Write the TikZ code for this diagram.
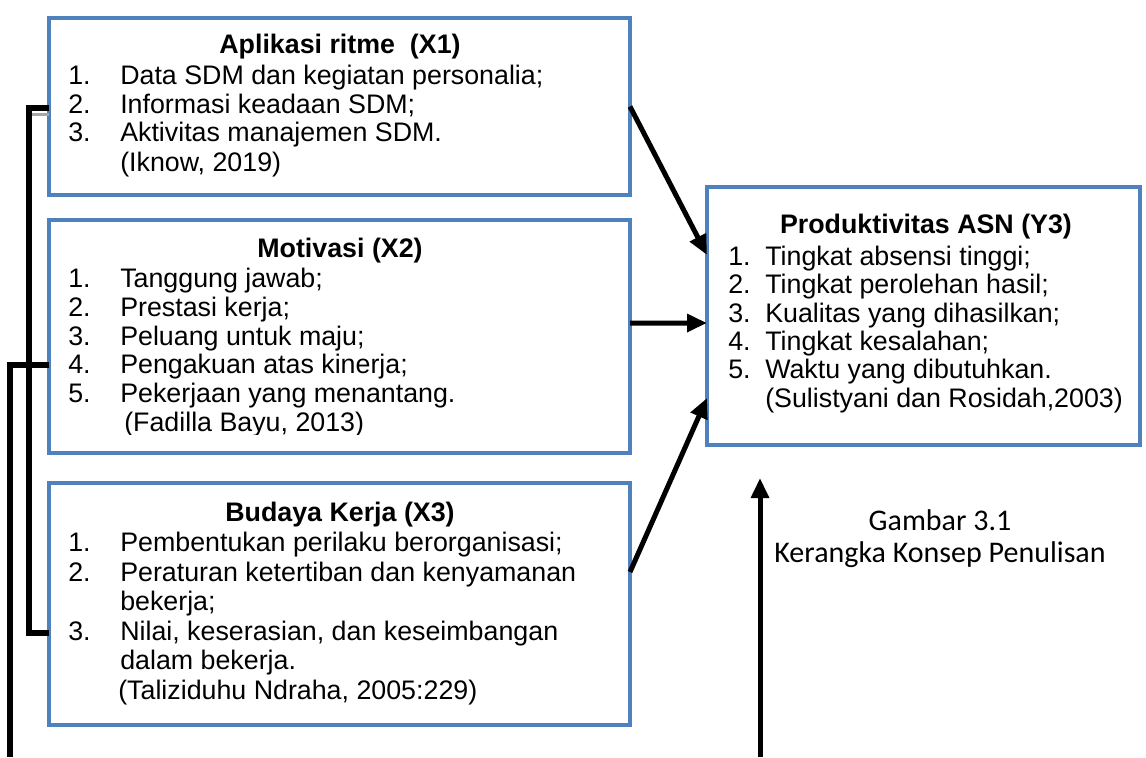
\documentclass[tikz,border=0pt]{standalone}
\usepackage{fontspec}
\setmainfont{Liberation Sans}
\newfontfamily\capfont{Carlito}
\usetikzlibrary{arrows.meta}
\definecolor{boxblue}{HTML}{4F81BD}
\begin{document}
\begin{tikzpicture}[x=0.75pt,y=-0.75pt,
  box/.style 2 args={draw=boxblue,line width=3pt,fill=white,minimum width={#1*0.75pt},minimum height={#2*0.75pt},inner sep=0pt,outer sep=0pt},
  txt/.style={anchor=base west,inner sep=0pt,font=\fontsize{20.1}{22}\selectfont},
  ttl/.style={anchor=base,inner sep=0pt,font=\fontsize{20.1}{22}\selectfont\bfseries},
  capt/.style={anchor=base,inner sep=0pt,font=\capfont\fontsize{22.5}{24}\selectfont},
  conn/.style={line width=4pt},
  shadow/.style={draw=black!35,line width=2.5pt},
  arr/.style={line width=3.75pt,-{Triangle[length=15pt,width=13pt]}}]
\useasboundingbox[fill=white] (0,0) rectangle (1146,757);

% boxes
\node[box={581}{177}] (x1) at (339.5,106.5) {};
\node[box={581}{233}] (x2) at (339.5,336.5) {};
\node[box={581}{242}] (x3) at (339.5,604) {};
\node[box={433}{258}] (y3) at (923.5,316) {};

% X1 text
\node[ttl] (x1t) at (340,53) {Aplikasi ritme\ \ (X1)};
\node[txt] (x1n1) at (68,84) {1.};  \node[txt] (x1a) at (120,84) {Data SDM dan kegiatan personalia;};
\node[txt] (x1n2) at (68,113) {2.}; \node[txt] (x1b) at (120,113) {Informasi keadaan SDM;};
\node[txt] (x1n3) at (68,141) {3.}; \node[txt] (x1c) at (120,141) {Aktivitas manajemen SDM.};
\node[txt] (x1r) at (120,171) {(Iknow, 2019)};

% X2 text
\node[ttl] (x2t) at (340,257) {Motivasi (X2)};
\node[txt] (x2n1) at (68,287) {1.}; \node[txt] (x2a) at (120,287) {Tanggung jawab;};
\node[txt] (x2n2) at (68,316) {2.}; \node[txt] (x2b) at (120,316) {Prestasi kerja;};
\node[txt] (x2n3) at (68,345) {3.}; \node[txt] (x2c) at (120,345) {Peluang untuk maju;};
\node[txt] (x2n4) at (68,373) {4.}; \node[txt] (x2d) at (120,373) {Pengakuan atas kinerja;};
\node[txt] (x2n5) at (68,402) {5.}; \node[txt] (x2e) at (120,402) {Pekerjaan yang menantang.};
\begin{scope}
\clip (100,410) rectangle (600,434);
\node[txt] (x2r) at (124,431) {(Fadilla Bayu, 2013)};
\end{scope}

% X3 text
\node[ttl] (x3t) at (340,521) {Budaya Kerja (X3)};
\node[txt] (x3n1) at (68,551) {1.}; \node[txt] (x3a) at (120,551) {Pembentukan perilaku berorganisasi;};
\node[txt] (x3n2) at (68,581) {2.}; \node[txt] (x3b) at (120,581) {Peraturan ketertiban dan kenyamanan};
\node[txt] (x3b2) at (120,610) {bekerja;};
\node[txt] (x3n3) at (68,640) {3.}; \node[txt] (x3c) at (120,640) {Nilai, keserasian, dan keseimbangan};
\node[txt] (x3c2) at (120,669) {dalam bekerja.};
\node[txt] (x3r) at (118,699) {(Taliziduhu Ndraha, 2005:229)};

% Y3 text
\node[ttl] (y3t) at (926,233) {Produktivitas ASN (Y3)};
\node[txt] (y3n1) at (728,265) {1.}; \node[txt] (y3a) at (765,265) {Tingkat absensi tinggi;};
\node[txt] (y3n2) at (728,293) {2.}; \node[txt] (y3b) at (765,293) {Tingkat perolehan hasil;};
\node[txt] (y3n3) at (728,322) {3.}; \node[txt] (y3c) at (765,322) {Kualitas yang dihasilkan;};
\node[txt] (y3n4) at (728,350) {4.}; \node[txt] (y3d) at (765,350) {Tingkat kesalahan;};
\node[txt] (y3n5) at (728,378) {5.}; \node[txt] (y3e) at (765,378) {Waktu yang dibutuhkan.};
\node[txt] (y3r) at (765,407) {(Sulistyani dan Rosidah,2003)};

% caption
\node[capt] (cap1) at (940,530) {Gambar 3.1};
\node[capt] (cap2) at (940,562) {Kerangka Konsep Penulisan};

% connectors
\draw[arr] (x1.east) -- ([yshift=45.75pt]y3.west);
\draw[arr] ([yshift=10.1pt]x2.east) -- ([yshift=-5.25pt]y3.west);
\draw[arr] ([yshift=24pt]x3.east) -- ([yshift=-61.5pt]y3.west);

\coordinate (sh1) at (32,114.5);
\draw[shadow] (sh1) -- ([yshift=-6pt]x1.west);
\draw[conn] ([yshift=-1.1pt]x1.west) -- ++(-20,0) |- ([yshift=-21.75pt]x3.west);
\coordinate (lb) at (10,757);
\draw[conn] ([yshift=-21.4pt]x2.west) -| (lb);
\coordinate (ab) at (760,757);
\coordinate (at) at (760,478);
\draw[arr] (ab) -- (at);
\end{tikzpicture}
\end{document}
